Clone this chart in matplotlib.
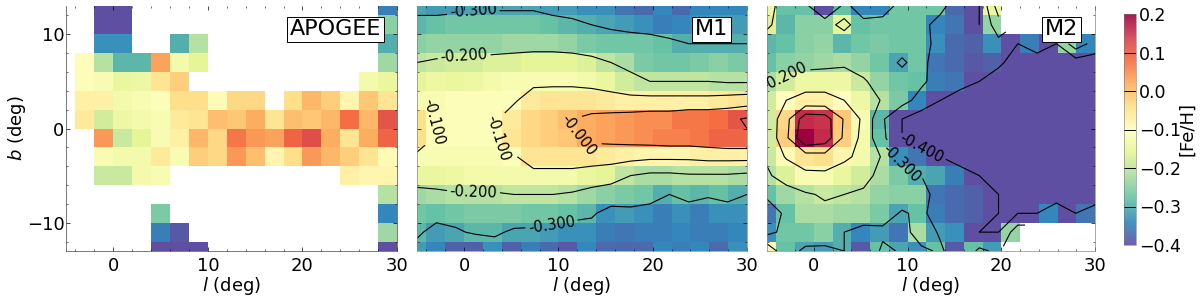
from matplotlib import pyplot as plt
from matplotlib import cm, colors
import numpy as np

n = np.nan
d = -0.45  # below the colour scale, shows as solid purple

# rows run from b=+13 down to b=-13, columns from l=-5 to l=29
apogee = [
[n,n,-.40,-.40,n,n,n,n,n,n,n,n,n,n,n,n,n,-.35],
[n,n,-.40,-.40,n,n,n,n,n,n,n,n,n,n,n,n,n,-.25],
[n,n,-.33,-.33,n,n,-.30,-.21,n,n,n,n,n,n,n,n,n,-.30],
[n,-.11,-.21,-.29,-.29,.03,-.13,-.16,n,n,n,n,n,n,n,n,n,-.23],
[n,-.11,-.12,-.15,-.14,-.05,-.02,n,n,n,n,n,n,n,n,n,-.13,-.15],
[n,-.07,-.07,-.13,-.12,-.11,-.04,-.04,-.09,-.03,-.03,n,-.04,.01,-.02,-.08,-.01,-.05],
[n,-.06,-.18,-.14,-.13,-.12,-.06,-.05,.00,-.01,.02,-.05,.00,-.01,.01,.08,.01,.11],
[n,n,.04,-.19,-.16,-.12,-.07,.01,-.03,.07,.04,.03,.09,.12,.02,-.05,.02,.09],
[n,n,-.12,-.13,-.13,-.06,-.12,-.02,-.03,.04,.00,-.08,-.04,.04,.01,-.02,-.05,-.09],
[n,n,-.19,-.19,-.13,-.12,n,n,n,n,n,n,n,n,n,-.07,-.08,-.08],
[n,n,n,n,n,n,n,n,n,n,n,n,n,n,n,n,n,-.21],
[n,n,n,n,n,-.26,n,n,n,n,n,n,n,n,n,n,n,-.34],
[n,n,n,n,n,-.35,-.39,n,n,n,n,n,n,n,n,n,n,-.23],
[n,n,n,n,n,-.40,-.40,-.40,n,n,n,n,n,n,n,n,n,-.40],
]

m1 = [
[-.31,-.32,-.32,-.31,-.31,-.31,-.31,-.32,-.32,-.33,-.33,-.36,-.37,-.34,-.37,-.34,-.34,-.34],
[-.29,-.28,-.27,-.27,-.27,-.27,-.27,-.28,-.29,-.30,-.31,-.32,-.33,-.35,-.34,-.33,-.32,-.32],
[-.25,-.24,-.24,-.24,-.24,-.23,-.23,-.23,-.24,-.26,-.27,-.27,-.27,-.28,-.30,-.30,-.30,-.30],
[-.20,-.19,-.18,-.18,-.17,-.17,-.16,-.16,-.16,-.17,-.20,-.22,-.26,-.27,-.27,-.26,-.25,-.26],
[-.16,-.14,-.15,-.14,-.13,-.12,-.12,-.12,-.12,-.13,-.15,-.18,-.20,-.20,-.20,-.20,-.21,-.21],
[-.12,-.12,-.11,-.11,-.11,-.11,-.06,-.05,-.05,-.05,-.06,-.07,-.07,-.07,-.07,-.07,-.06,-.05],
[-.04,-.11,-.11,-.11,-.11,-.06,-.03,-.02,.00,.02,.03,.04,.05,.05,.07,.07,.08,.11],
[-.04,-.11,-.11,-.11,-.11,-.05,-.03,-.02,-.01,.02,.03,.04,.05,.06,.06,.07,.09,.09],
[-.12,-.12,-.12,-.12,-.12,-.11,-.05,-.05,-.05,-.05,-.06,-.07,-.08,-.08,-.08,-.07,-.07,-.07],
[-.15,-.15,-.14,-.13,-.13,-.13,-.13,-.13,-.13,-.15,-.16,-.20,-.22,-.22,-.21,-.21,-.21,-.22],
[-.23,-.22,-.21,-.21,-.21,-.20,-.20,-.20,-.21,-.23,-.25,-.26,-.27,-.30,-.28,-.29,-.28,-.30],
[-.27,-.28,-.27,-.26,-.26,-.26,-.27,-.27,-.28,-.29,-.33,-.32,-.33,-.35,-.33,-.35,-.33,-.33],
[-.29,-.32,-.31,-.29,-.29,-.31,-.31,-.32,-.33,-.33,-.35,-.36,-.35,-.35,-.34,-.35,-.35,-.34],
[-.32,-.34,-.38,-.38,-.33,-.38,-.35,-.37,-.39,-.34,-.37,-.37,-.37,-.34,-.35,-.34,-.37,-.33],
]

m2 = [
[-.14,-.28,-.28,-.40,-.28,-.34,-.34,-.27,-.27,-.27,-.37,-.40,-.15,n,n,n,n,n],
[-.17,-.29,-.25,-.25,-.16,-.28,-.27,-.27,-.27,-.34,-.36,-.40,-.24,n,n,n,n,n],
[-.29,-.28,-.25,-.24,-.29,-.27,-.26,-.27,-.27,-.33,-.37,-.38,-.33,-.40,-.35,-.40,-.24,-.34],
[-.28,-.25,-.24,-.23,-.22,-.24,-.27,-.31,-.27,-.36,-.37,-.39,-.38,d,d,d,d,d],
[-.22,-.18,-.14,-.14,-.14,-.19,-.24,-.27,-.28,-.35,-.36,-.40,d,d,d,d,d,d],
[-.18,-.10,-.07,-.07,-.10,-.14,-.21,-.26,-.34,-.40,d,d,d,d,d,d,d,d],
[-.18,-.03,.16,.15,-.01,-.12,-.29,-.40,d,d,d,d,d,d,d,d,d,d],
[-.18,-.02,.20,.16,-.02,-.13,-.28,-.40,d,d,d,d,d,d,d,d,d,d],
[-.19,-.09,-.05,-.04,-.08,-.13,-.21,-.33,-.36,-.40,d,d,d,d,d,d,d,d],
[-.21,-.17,-.12,-.12,-.15,-.18,-.22,-.26,-.30,-.31,-.35,-.40,d,d,d,d,d,d],
[-.28,-.23,-.21,-.19,-.20,-.21,-.24,-.25,-.25,-.36,-.37,-.38,-.40,d,d,d,d,d],
[-.36,-.28,-.22,-.22,-.23,-.23,-.26,-.31,-.28,-.35,-.37,-.38,-.40,-.40,-.40,-.34,-.40,-.36],
[-.33,-.27,-.27,-.25,-.30,-.34,-.32,-.36,-.22,-.32,-.33,-.40,-.40,-.24,n,n,n,n],
[-.12,-.28,-.31,-.32,-.30,-.39,-.28,-.31,-.33,-.28,-.39,-.28,-.32,n,n,n,n,n],
]

l_edges = np.arange(-6, 31, 2)
b_edges = np.arange(14, -15, -2)
l_cont = np.linspace(-5, 30, 18)
b_cont = np.linspace(13, -13, 14)
levels = np.arange(-0.4, 0.15, 0.1)
vmin = -0.4
vmax = 0.2

m1_labels = [(1, 12.2), (0, 7.3), (-3, 0.7), (3.3, -1.2), (10.8, -1.2), (1, -6.2), (9.3, -10.4)]
m2_labels = [(-3, 5.3), (11.4, -2.3), (9.8, -3.4)]

names = ['APOGEE', 'M1', 'M2']
grids = [apogee, m1, m2]
boxes = [(66, 397), (417, 747), (767, 1095)]
label_x = [0.952, 0.942, 0.948]
clabels = [None, m1_labels, m2_labels]

W = 1200.
H = 299.
fig = plt.figure(figsize=(12, 2.99), dpi=100)
cmap = plt.get_cmap('Spectral_r')
norm = colors.Normalize(vmin=vmin, vmax=vmax)

for i in range(0, 3):
	x0, x1 = boxes[i]
	ax = fig.add_axes([x0/W, 1-251/H, (x1-x0)/W, 245/H])
	z = np.array(grids[i], dtype=float)
	ax.pcolormesh(l_edges, b_edges, z, cmap=cmap, norm=norm, linewidth=0)
	if i > 0:
		cs = ax.contour(l_cont, b_cont, z, levels=levels, colors='k', linewidths=0.8, linestyles='solid')
		ax.clabel(cs, fmt='%.3f', fontsize=10.5, manual=clabels[i], inline=True, inline_spacing=2)
	ax.set_xlim(-5, 30)
	ax.set_ylim(-13, 13)
	ax.set_xticks([0, 10, 20, 30])
	ax.set_xticks(np.arange(-4, 30, 2), minor=True)
	ax.set_yticks([-10, 0, 10])
	ax.set_yticks(np.arange(-12, 13, 2), minor=True)
	ax.tick_params(which='major', direction='in', length=3, width=0.5, labelsize=13, top=True, right=True)
	ax.tick_params(which='minor', direction='in', length=1.5, width=0.4, top=True, right=True)
	ax.tick_params(axis='x', which='major', pad=4)
	ax.tick_params(axis='y', which='major', pad=1)
	ax.spines['top'].set_visible(False)
	for s in ['left', 'bottom', 'right']:
		ax.spines[s].set_linewidth(0.5)
		ax.spines[s].set_color('#888888' if i > 0 else '#444444')
	ax.set_xlabel(r'$l$ (deg)', fontsize=13, labelpad=0)
	if i == 0:
		ax.set_ylabel(r'$b$ (deg)', fontsize=13, labelpad=-1)
	else:
		ax.set_yticklabels([])
	ax.text(label_x[i], 0.905, names[i], transform=ax.transAxes, ha='right', va='center', fontsize=16,
		bbox=dict(facecolor='white', edgecolor='black', linewidth=0.7, pad=2), zorder=10)

# colour bar with the contour levels marked on it
cax = fig.add_axes([1124/W, 1-245/H, 12/W, 231/H])
cb = fig.colorbar(cm.ScalarMappable(norm=norm, cmap=cmap), cax=cax, alpha=0.9)
cb.set_ticks([-0.4, -0.3, -0.2, -0.1, 0.0, 0.1, 0.2])
cb.ax.tick_params(length=0, labelsize=12.5, pad=2)
cb.outline.set_linewidth(0.4)
cb.outline.set_edgecolor('#777777')
for lev in levels:
	cax.axhline(lev, color='k', linewidth=0.7)
cb.set_label('[Fe/H]', fontsize=13, labelpad=-2)

plt.savefig('out.png', dpi=100)
